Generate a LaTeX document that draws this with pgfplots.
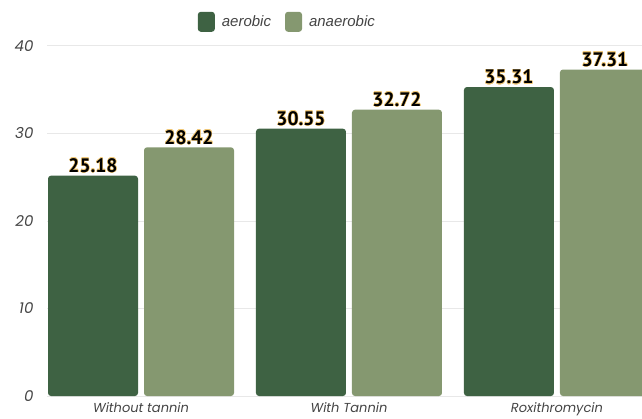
\documentclass[border=0pt]{standalone}
\usepackage{fontspec}
\setmainfont{Liberation Sans}
\newfontfamily\pop{Poppins}
\newfontfamily\ptsans{PT Sans}
\usepackage{contour}
\contourlength{0.5pt}
\contournumber{16}
\usepackage{pgfplots}
\pgfplotsset{compat=1.18}
\definecolor{darkg}{RGB}{62,98,67}
\definecolor{lightg}{RGB}{133,152,112}
\definecolor{gridc}{RGB}{232,232,232}
\definecolor{tickc}{RGB}{68,68,68}
\definecolor{halo}{RGB}{240,200,120}
\begin{document}
\begin{tikzpicture}
\begin{axis}[
  scale only axis,
  width=595pt, height=350pt,
  xmin=-0.452, xmax=2.409,
  ymin=0, ymax=40,
  axis line style={draw=none},
  ybar, bar width=90pt,
  ytick={0,10,20,30,40},
  xtick={0,1,2},
  xticklabels={Without tannin, With Tannin, Roxithromycin},
  ymajorgrids,
  grid style={gridc, line width=1pt},
  major tick length=0pt,
  tick label style={font=\pop\itshape\fontsize{15}{15}\selectfont, text=tickc},
  xticklabel style={anchor=north, yshift=-3pt, font=\pop\itshape\fontsize{13}{13}\selectfont},
  yticklabel style={anchor=east, xshift=-10pt},
  /pgf/number format/assume math mode=true,
  nodes near coords={\contour{halo}{\pgfmathprintnumber[fixed,precision=2,fixed zerofill]{\pgfplotspointmeta}}},
  every node near coord/.append style={font=\ptsans\bfseries\fontsize{19.5}{19.5}\selectfont, text=black, yshift=-1pt},
  legend style={at={(0.404,1)}, anchor=south, yshift=12pt, draw=none, fill=none,
    legend columns=2, font=\itshape\fontsize{15}{15}\selectfont, text=tickc,
    /tikz/every even column/.append style={column sep=12pt}},
  legend image code/.code={\fill[#1] (0pt,-10pt) rectangle (17pt,10pt); \path (22pt,0pt);},
  clip=false,
]
\addplot[fill=darkg, draw=none, bar shift=-48pt, rounded corners=3pt] coordinates {(0,25.18) (1,30.55) (2,35.31)};
\addplot[fill=lightg, draw=none, bar shift=48pt, rounded corners=3pt] coordinates {(0,28.42) (1,32.72) (2,37.31)};
\legend{aerobic, anaerobic}
\end{axis}
\pgfresetboundingbox
\useasboundingbox (-47pt,-22pt) rectangle (595pt,396pt);
\end{tikzpicture}
\end{document}
